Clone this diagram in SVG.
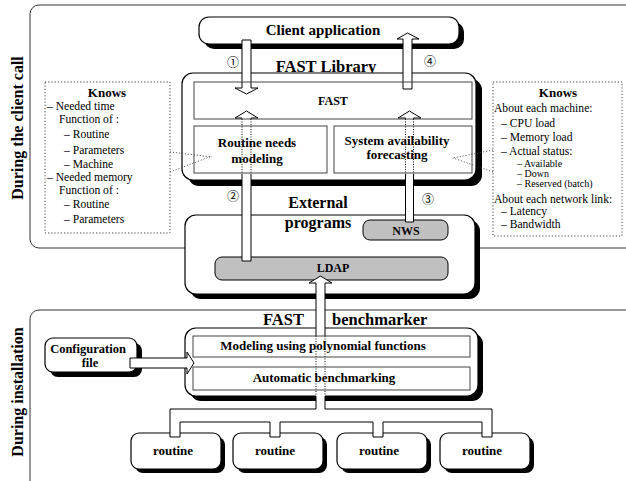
<svg xmlns="http://www.w3.org/2000/svg" width="626" height="481" viewBox="0 0 626 481">
<style>
text{font-family:"Liberation Serif","Times New Roman",serif;fill:#000}
.b{font-weight:bold}
.c{text-anchor:middle}
.panel{fill:none;stroke:#333;stroke-width:1}
.box{fill:#fff;stroke:#000;stroke-width:1.2}
.sh{fill:#000}
.inner{fill:none;stroke:#444;stroke-width:1}
.gray{fill:#c0c0c0;stroke:#000;stroke-width:1}
.knows{fill:#fff;stroke:#444;stroke-width:1;stroke-dasharray:1.2 2}
.afill{fill:#fff;stroke:none}
.arr{fill:#fff;stroke:#000;stroke-width:1}
.aline{fill:none;stroke:#000;stroke-width:1}
.dot{fill:none;stroke:#000;stroke-width:1;stroke-dasharray:1 1.5}
.wedge{fill:none;stroke:#444;stroke-width:1;stroke-dasharray:1 2}
.num{font-family:"Noto Sans CJK JP","DejaVu Sans",sans-serif;font-size:12px;text-anchor:middle}
.t12{font-size:11.6px}
.t10{font-size:10px}
.t13{font-size:13px}
.title{font-size:16.5px;font-weight:bold}
.side{font-size:16px;font-weight:bold;text-anchor:middle}
</style>

<g id="panels">
  <rect class="panel" x="30" y="5" width="620" height="243" rx="9"/>
  <rect class="panel" x="30" y="310" width="620" height="190" rx="9"/>
  <text class="side" transform="translate(23,128) rotate(-90)">During the client call</text>
  <text class="side" transform="translate(23,392) rotate(-90)">During installation</text>
</g>

<g id="client-application">
  <rect class="sh" x="204" y="22" width="260" height="27" rx="10"/>
  <rect class="box" x="199" y="17" width="260" height="27" rx="10"/>
  <text class="b c" x="323" y="35" font-size="15">Client application</text>
</g>

<g id="fast-library">
  <text class="title c" x="326" y="72">FAST Library</text>
  <rect class="sh" x="188" y="79" width="294" height="107" rx="11"/>
  <rect class="box" x="182" y="73" width="294" height="107" rx="11"/>
</g>

<g id="external-programs">
  <text class="b c" x="318" y="208" font-size="16">External</text>
  <rect class="sh" x="190" y="220" width="290" height="79" rx="11"/>
  <rect class="box" x="185" y="215" width="290" height="79" rx="11"/>
  <text class="b c" x="318" y="228" font-size="16">programs</text>
</g>

<g id="nws">
  <rect class="gray" x="363" y="220" width="85" height="20" rx="7"/>
  <text class="b c" font-size="12" x="406" y="234.5">NWS</text>
</g>

<g id="ldap">
  <rect class="gray" x="215" y="257" width="233" height="23" rx="7"/>
  <text class="b c" font-size="12" x="333" y="272">LDAP</text>
</g>

<g id="fast-benchmarker">
  <text class="title"><tspan x="263" y="325">FAST</tspan><tspan x="332" y="325">benchmarker</tspan></text>
  <rect class="sh" x="190" y="333" width="293" height="68" rx="11"/>
  <rect class="box" x="185" y="328" width="293" height="68" rx="11"/>
</g>

<g id="configuration-file">
  <rect class="sh" x="50" y="343" width="92" height="34" rx="8"/>
  <rect class="box" x="45" y="338" width="92" height="34" rx="8"/>
  <text class="b c" font-size="12.5" x="88" y="353">Configuration</text>
  <text class="b c" font-size="12.5" x="90" y="366.5">file</text>
</g>

<g id="routine-1">
  <rect class="sh" x="135" y="437" width="90" height="36" rx="8"/>
  <rect class="box" x="131" y="433" width="90" height="36" rx="8"/>
  <text class="b c t13" x="173" y="455">routine</text>
</g>
<g id="routine-2">
  <rect class="sh" x="237" y="437" width="90" height="36" rx="8"/>
  <rect class="box" x="233" y="433" width="90" height="36" rx="8"/>
  <text class="b c t13" x="275" y="455">routine</text>
</g>
<g id="routine-3">
  <rect class="sh" x="341" y="437" width="90" height="36" rx="8"/>
  <rect class="box" x="337" y="433" width="90" height="36" rx="8"/>
  <text class="b c t13" x="379" y="455">routine</text>
</g>
<g id="routine-4">
  <rect class="sh" x="444" y="437" width="90" height="36" rx="8"/>
  <rect class="box" x="440" y="433" width="90" height="36" rx="8"/>
  <text class="b c t13" x="482" y="455">routine</text>
</g>

<g id="knows-left">
  <rect class="knows" x="45" y="82" width="125" height="151"/>
  <text class="b c t13" x="107" y="97">Knows</text>
  <text class="t12" x="47" y="110">– Needed time</text>
  <text class="t12" x="59" y="122.5">Function of :</text>
  <text class="t12" x="64" y="138">– Routine</text>
  <text class="t12" x="64" y="154">– Parameters</text>
  <text class="t12" x="64" y="168">– Machine</text>
  <text class="t12" x="47" y="181">– Needed memory</text>
  <text class="t12" x="59" y="194">Function of :</text>
  <text class="t12" x="64" y="208">– Routine</text>
  <text class="t12" x="64" y="223">– Parameters</text>
</g>

<g id="knows-right">
  <rect class="knows" x="493" y="82" width="129" height="154"/>
  <text class="b c t13" x="558" y="97">Knows</text>
  <text class="t12" x="494" y="112">About each machine:</text>
  <text class="t12" x="501" y="127">– CPU load</text>
  <text class="t12" x="501" y="141">– Memory load</text>
  <text class="t12" x="501" y="155">– Actual status:</text>
  <text class="t10" x="517" y="167">– Available</text>
  <text class="t10" x="517" y="177">– Down</text>
  <text class="t10" x="517" y="187">– Reserved (batch)</text>
  <text class="t12" x="494" y="203">About each network link:</text>
  <text class="t12" x="501" y="215">– Latency</text>
  <text class="t12" x="501" y="228">– Bandwidth</text>
</g>

<g id="connectors">
  <!-- 1: client -> FAST -->
  <polygon class="arr" points="242,40 251,40 251,88 258,88 246.5,94 235,88 242,88"/>
  <!-- 4: FAST -> client -->
  <polygon class="arr" points="403,89 403,39 397,39 407.5,33 419,39 412,39 412,89"/>
  <!-- 2: LDAP -> routine needs modeling -->
  <polygon class="afill" points="242,261 242,118 235,118 246.5,111 258,118 251,118 251,261"/>
  <path class="aline" d="M242,175 L242,261 L251,261 L251,175 M251,119 L251,118 L258,118 L246.5,111 L235,118 L242,118 L242,119"/>
  <path class="dot" d="M242,119 L242,175 M251,119 L251,175"/>
  <!-- 3: NWS -> system availability -->
  <polygon class="afill" points="405.5,222 405.5,118 398,118 409.5,111 421,118 413.5,118 413.5,222"/>
  <path class="aline" d="M405.5,175 L405.5,222 L413.5,222 L413.5,175 M413.5,119 L413.5,118 L421,118 L409.5,111 L398,118 L405.5,118 L405.5,119"/>
  <path class="dot" d="M405.5,119 L405.5,175 M413.5,119 L413.5,175"/>
  <!-- routines -> benchmarker -> LDAP -->
  <polygon class="afill" points="320.5,276 332,283 325,283 325,409 492,409 492,437 482,437 482,422 383,422 383,437 373,437 373,422 280,422 280,437 270,437 270,422 180,422 180,437 170,437 170,409 316,409 316,283 309,283"/>
  <path class="aline" d="M316,336 L316,283 L309,283 L320.5,276 L332,283 L325,283 L325,336 M325,396 L325,409 L492,409 L492,437 L482,437 L482,422 L383,422 L383,437 L373,437 L373,422 L280,422 L280,437 L270,437 L270,422 L180,422 L180,437 L170,437 L170,409 L316,409 L316,396"/>
  <path class="dot" d="M316,336 L316,396 M325,336 L325,396"/>
  <!-- configuration file -> benchmarker -->
  <polygon class="arr" points="130,358 187,358 187,352 194,363 187,374 187,368 130,368"/>
  <!-- callouts -->
  <path class="wedge" d="M170,152 L212,157 M170,172 L212,156"/>
  <path class="wedge" d="M493,150 L453,158 M493,172 L453,158"/>
  <!-- step numbers -->
  <text class="num" x="233" y="67">①</text>
  <text class="num" x="233" y="201">②</text>
  <text class="num" x="428" y="204">③</text>
  <text class="num" x="430" y="66">④</text>
</g>

<g id="fast">
  <rect class="inner" x="194" y="82" width="278" height="37"/>
  <text class="b c" font-size="12" x="333" y="105">FAST</text>
</g>
<g id="routine-needs-modeling">
  <rect class="inner" x="194" y="126" width="133" height="47"/>
  <text class="b c t13" x="257" y="147">Routine needs</text>
  <text class="b c t13" x="257" y="163">modeling</text>
</g>
<g id="system-availability-forecasting">
  <rect class="inner" x="334" y="126" width="138" height="47"/>
  <text class="b c t13" x="397" y="145">System availability</text>
  <text class="b c t13" x="397" y="159">forecasting</text>
</g>
<g id="modeling-polynomial">
  <rect class="inner" x="193" y="336" width="277" height="21"/>
  <text class="b c t13" x="323" y="350">Modeling using polynomial functions</text>
</g>
<g id="automatic-benchmarking">
  <rect class="inner" x="193" y="367" width="277" height="23"/>
  <text class="b c t13" x="324" y="382">Automatic benchmarking</text>
</g>
</svg>
